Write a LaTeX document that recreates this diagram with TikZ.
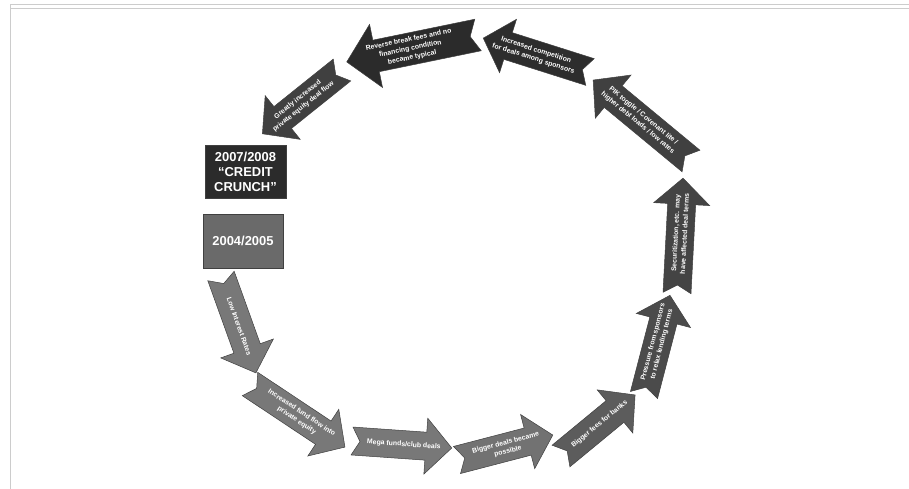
\documentclass[tikz,border=0pt]{standalone}
\usepackage{fontspec}
\setsansfont{Liberation Sans}
\usepackage{tikz}
\usetikzlibrary{calc}
\definecolor{framegray}{RGB}{204,204,204}
\definecolor{stepA}{RGB}{120,120,120}
\definecolor{stepB}{RGB}{92,92,92}
\definecolor{stepC}{RGB}{75,75,75}
\definecolor{stepD}{RGB}{64,64,64}
\definecolor{stepE}{RGB}{45,45,45}
\definecolor{boxdark}{RGB}{43,43,43}
\definecolor{boxmid}{RGB}{106,106,106}

% notched arrow: [width scale]{name}{tail}{angle}{length}{fill}{text angle}{text}
\newcommand{\cyclearrow}[8][1]{%
  \begin{scope}[shift={#3},rotate=#4]
    \filldraw[arrbody,fill=#6] (0,{14*#1}) -- ({#5-26*#1},{14*#1}) -- ({#5-26*#1},{28*#1})
      -- (#5,0) -- ({#5-26*#1},{-28*#1}) -- ({#5-26*#1},{-14*#1}) -- (0,{-14*#1}) -- (8,0) -- cycle;
    \node[lab,rotate=#7] (#2) at ({0.5*#5+2},0) {#8};
  \end{scope}}

\begin{document}
\begin{tikzpicture}[x=1bp,y=-1bp,
  arrbody/.style={draw=black!75,line width=0.5bp,line join=miter},
  lab/.style={font=\sffamily\bfseries\fontsize{6.9}{9}\selectfont,text=white,align=center,inner sep=0pt},
  yearbox/.style={draw=black!75,line width=0.5bp,font=\sffamily\bfseries\fontsize{13}{15}\selectfont,text=white,align=center,minimum width=81bp,minimum height=54bp,inner sep=0pt}]
  \useasboundingbox (0,0) rectangle (909,489);
  % page frame
  \coordinate (fl) at (10,5);
  \coordinate (fr) at (909,5);
  \coordinate (fb) at (10,489);
  \draw[framegray,line width=1bp] (fb) -- (fl) -- (fr);
  \draw[framegray,line width=1bp] (10,9) -- (909,9);
  % year boxes
  \node[yearbox,fill=boxdark,minimum height=53bp] (crunch) at (245.5,171.5) {2007/2008\\``CREDIT\\CRUNCH''};
  \node[yearbox,fill=boxmid,minimum width=80bp] (early) at (243,241) {2004/2005};
  % the cycle
  \cyclearrow{rates}{(221,276)}{-70.2}{103}{stepA}{-70.2}{Low Interest Rates}
  \cyclearrow{fundflow}{(250,384)}{-33.6}{114}{stepA}{-33.6}{Increased fund flow into\\private equity}
  \cyclearrow{mega}{(352,441)}{-4}{100}{stepA}{-4}{Mega funds/club deals}
  \cyclearrow{bigdeals}{(457,460)}{14.6}{99}{stepA!95!black}{14.6}{Bigger deals became\\possible}
  \cyclearrow{fees}{(561,456)}{39.5}{96}{stepB}{39.5}{Bigger fees for banks}
  \cyclearrow{pressure}{(644,395)}{75.4}{103}{stepC}{75.4}{Pressure from sponsors\\to relax lending terms}
  \cyclearrow{secur}{(677,293)}{87}{115}{stepC!90!black}{87}{Securitization, etc. may\\have affected deal terms}
  \cyclearrow{pik}{(691,161)}{140.4}{127}{stepD}{-39.6}{PIK toggle / Covenant lite /\\higher debt loads / low rates}
  \cyclearrow{compet}{(590,72)}{162.4}{112}{stepE}{-17.6}{Increased competition\\for deals among sponsors}
  \cyclearrow[1.15]{reverse}{(478,35)}{191.6}{134}{boxdark}{11.6}{Reverse break fees and no\\financing condition\\became typical}
  \cyclearrow{dealflow}{(342,70)}{218.7}{102}{stepD}{38.7}{Greatly increased\\private equity deal flow}
\end{tikzpicture}
\end{document}
